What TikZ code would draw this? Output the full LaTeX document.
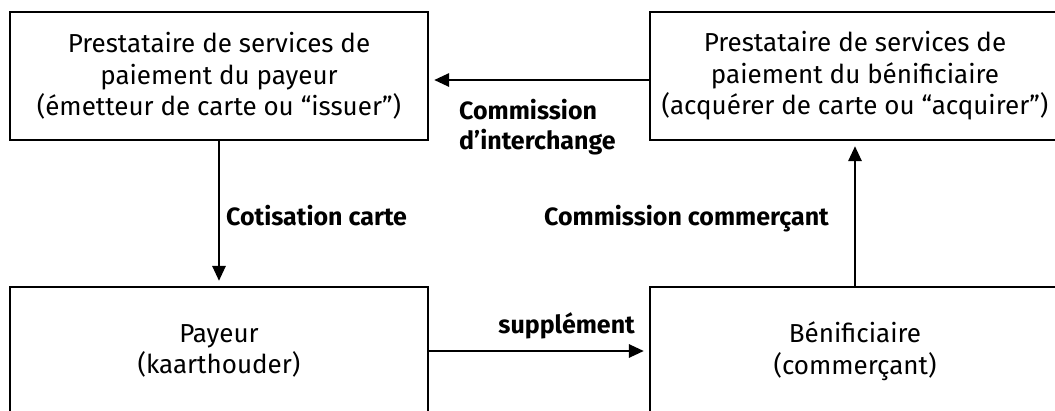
\documentclass[tikz,border=0pt]{standalone}
\usepackage{fontspec}
\setmainfont{Fira Sans}
\usetikzlibrary{arrows.meta}
\begin{document}
\begin{tikzpicture}[x=1pt,y=-1pt,
    boite/.style={draw,line width=2.2pt,minimum width=418pt,minimum height=128pt,
      inner sep=0pt,align=center,font=\fontsize{26}{31.5}\selectfont},
    flux/.style={line width=2.8pt,-{Triangle[length=15pt,width=13pt]},shorten >=5pt},
    etiq/.style={inner sep=0pt,font=\bfseries\fontsize{25}{30.5}\selectfont}]
  \useasboundingbox (0,0) rectangle (1055,410);
  \clip (0,0) rectangle (1055,410);

  \node[boite] at(219,76)(iss){Prestataire de services de\\paiement du payeur\\(émetteur de carte ou “issuer”)};
  \node[boite,minimum width=410pt] at(855,76)(acq){Prestataire de services de\\paiement du bénificiaire\\(acquérer de carte ou “acquirer”)};
  \node[boite] at(219,351)(payeur){Payeur\\(kaarthouder)};
  \node[boite,minimum width=410pt] at(855,351)(benef){Bénificiaire\\(commerçant)};

  \draw[flux]([yshift=-4pt]acq.west) to ([yshift=-4pt]iss.east);
  \draw[flux](iss) to (payeur);
  \draw[flux](payeur) to (benef);
  \draw[flux](benef) to (acq);

  \node[etiq,anchor=north west,align=left] at(459,99)(interch){Commission\\d’interchange};
  \node[etiq,anchor=base west] at(226,225)(cotis){Cotisation carte};
  \node[etiq,anchor=base east] at(829,225)(commerc){Commission commerçant};
  \node[etiq,anchor=base east] at(635,333)(suppl){supplément};

\end{tikzpicture}
\end{document}
